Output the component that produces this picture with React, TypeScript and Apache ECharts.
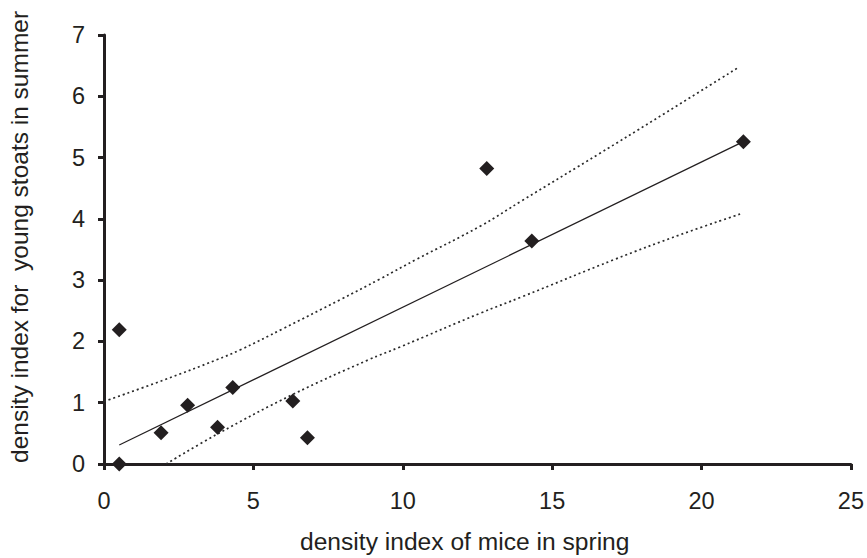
import React, { useEffect, useRef } from "react";
import * as echarts from "echarts";

const xTicks = [0, 5, 10, 15, 20, 25];
const yTicks = [0, 1, 2, 3, 4, 5, 6, 7];

const mice = [0.51, 0.51, 1.91, 2.8, 3.8, 4.31, 6.32, 6.81, 12.81, 14.32, 21.4];
const stoats = [2.19, 0.0, 0.51, 0.96, 0.6, 1.25, 1.03, 0.43, 4.82, 3.64, 5.26];

const fitLine: [number, number][] = [
  [0.51, 0.31],
  [21.4, 5.26],
];

const upperBand: [number, number][] = [
  [0, 1.02],
  [2, 1.37],
  [3.77, 1.7],
  [4.55, 1.86],
  [6, 2.21],
  [7.9, 2.68],
  [9.24, 3.02],
  [10.5, 3.35],
  [12.59, 3.88],
  [14, 4.3],
  [16.6, 5.07],
  [18.4, 5.61],
  [21.2, 6.46],
];

const lowerBand: [number, number][] = [
  [2.08, 0.0],
  [3.8, 0.49],
  [6.3, 1.13],
  [8.85, 1.7],
  [9.91, 1.91],
  [12.59, 2.46],
  [14, 2.73],
  [17.1, 3.34],
  [19.28, 3.74],
  [21.3, 4.08],
];

const xTitle = "density index of mice in spring";
const yTitle = "density index for  young stoats in summer";

export default function App() {
  const ref = useRef<HTMLDivElement>(null);
  useEffect(() => {
    if (!ref.current) return;
    const chart = echarts.init(ref.current, null, { renderer: "svg" });
    const ink = "#231f20";
    const font = "'Liberation Sans', Arial, sans-serif";
    chart.setOption({
      animation: false,
      backgroundColor: "#ffffff",
      grid: { left: 104, right: 16, top: 35, bottom: 94, containLabel: false },
      xAxis: {
        type: "value",
        min: xTicks[0],
        max: xTicks[xTicks.length - 1],
        interval: 5,
        axisLine: { onZero: false, lineStyle: { color: ink, width: 3 } },
        axisTick: { show: true, inside: false, length: 6, lineStyle: { color: ink, width: 3 } },
        axisLabel: { color: ink, fontSize: 23.5, fontFamily: font, margin: 25 },
        splitLine: { show: false },
      },
      yAxis: {
        type: "value",
        min: yTicks[0],
        max: yTicks[yTicks.length - 1],
        interval: 1,
        axisLine: { show: true, onZero: false, lineStyle: { color: ink, width: 3 } },
        axisTick: { show: true, inside: false, length: 6, lineStyle: { color: ink, width: 3 } },
        axisLabel: { color: ink, fontSize: 23.5, fontFamily: font, margin: 19 },
        splitLine: { show: false },
      },
      graphic: [
        {
          type: "text",
          left: 300,
          top: 529,
          style: { text: xTitle, fill: ink, fontSize: 24.6, fontFamily: font },
        },
        {
          type: "text",
          x: 7,
          y: 463,
          rotation: Math.PI / 2,
          originX: 0,
          originY: 0,
          style: {
            text: yTitle,
            fill: ink,
            fontSize: 24.5,
            fontFamily: font,
            align: "left",
            verticalAlign: "top",
          },
        },
      ],
      series: [
        {
          type: "line",
          data: upperBand,
          smooth: 0.4,
          symbol: "none",
          lineStyle: { color: "#2a2a2a", width: 1.7, type: [2, 3] },
          z: 2,
        },
        {
          type: "line",
          data: lowerBand,
          smooth: 0.4,
          symbol: "none",
          lineStyle: { color: "#2a2a2a", width: 1.7, type: [2, 3] },
          z: 2,
        },
        {
          type: "line",
          data: fitLine,
          symbol: "none",
          lineStyle: { color: ink, width: 1.2 },
          z: 3,
        },
        {
          type: "scatter",
          data: mice.map((x, i) => [x, stoats[i]]),
          symbol: "diamond",
          symbolSize: [15, 15],
          itemStyle: { color: ink, opacity: 1 },
          z: 4,
        },
      ],
    });
    return () => chart.dispose();
  }, []);
  return (
    <div
      ref={ref}
      style={{ position: "fixed", left: 0, top: 0, width: 867, height: 558, background: "#fff" }}
    />
  );
}
